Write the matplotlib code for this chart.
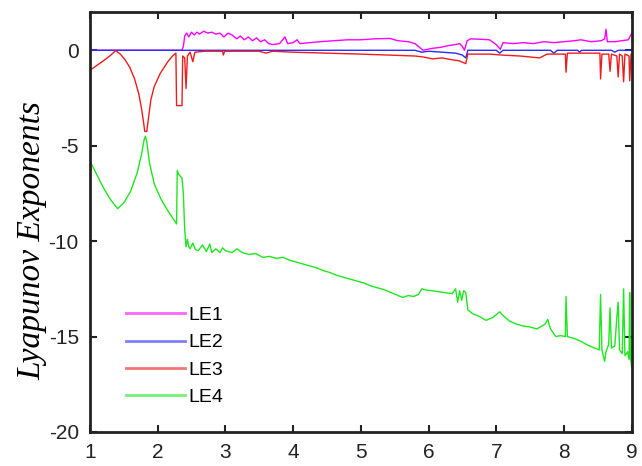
from matplotlib import pyplot as plt


# LE1 (magenta)
LE1_X = [1.00, 2.36, 2.38, 2.40, 2.43, 2.46, 2.50, 2.54, 2.58, 2.62, 2.68, 2.74, 2.80, 2.86, 2.92,
         2.98, 3.04, 3.10, 3.17, 3.22, 3.28, 3.34, 3.40, 3.46, 3.52, 3.58, 3.64, 3.70, 3.80, 3.88,
         3.92, 4.00, 4.06, 4.10, 4.25, 4.40, 4.60, 4.80, 5.00, 5.20, 5.43, 5.55, 5.70, 5.80, 5.92,
         6.05, 6.17, 6.30, 6.40, 6.46, 6.50, 6.53, 6.57, 6.62, 6.75, 6.90, 7.00, 7.06, 7.10, 7.25,
         7.40, 7.55, 7.70, 7.85, 8.00, 8.15, 8.25, 8.40, 8.55, 8.60, 8.62, 8.64, 8.75, 8.85, 8.95, 9.00]
LE1_Y = [0.0, 0.0, 0.2, 0.75, 0.9, 0.7, 0.95, 0.8, 0.95, 0.85, 1.0, 0.9, 0.95, 0.85, 0.9,
         0.7, 0.9, 0.8, 0.6, 0.75, 0.55, 0.7, 0.5, 0.65, 0.45, 0.55, 0.35, 0.3, 0.35, 0.7,
         0.35, 0.4, 0.55, 0.35, 0.4, 0.45, 0.5, 0.55, 0.55, 0.6, 0.62, 0.5, 0.45, 0.35, 0.0,
         0.1, 0.15, 0.25, 0.3, 0.35, 0.2, 0.0, 0.5, 0.6, 0.58, 0.55, 0.3, 0.05, 0.4, 0.35,
         0.4, 0.35, 0.45, 0.4, 0.45, 0.5, 0.55, 0.45, 0.5, 0.6, 1.1, 0.45, 0.45, 0.5, 0.55, 0.9]

# LE2 (blue)
LE2_X = [1.00, 5.80, 5.90, 6.00, 6.20, 6.40, 6.50, 6.55, 6.58, 7.00, 7.05, 7.10, 7.80, 7.85,
         7.90, 8.20, 8.23, 8.26, 8.70, 8.75, 8.80, 9.00]
LE2_Y = [0.0, 0.0, -0.1, -0.05, -0.1, -0.15, -0.25, -0.4, 0.0, 0.0, -0.15, 0.0, 0.0, -0.15,
         0.0, 0.0, -0.1, 0.0, 0.0, -0.1, 0.0, 0.0]

# LE3 (red)
LE3_X = [1.00, 1.10, 1.20, 1.30, 1.38, 1.45, 1.52, 1.59, 1.66, 1.72, 1.76, 1.79, 1.81, 1.84,
         1.86, 1.90, 1.95, 2.04, 2.15, 2.22, 2.27, 2.28, 2.36, 2.37, 2.40, 2.42, 2.44, 2.48,
         2.52, 2.55, 2.70, 2.96, 2.97, 2.99, 3.50, 3.60, 3.70, 4.00, 4.50, 5.00, 5.40, 5.80,
         5.92, 6.06, 6.20, 6.35, 6.45, 6.55, 6.58, 6.75, 6.90, 7.08, 7.35, 7.64, 7.75, 8.02,
         8.03, 8.05, 8.53, 8.54, 8.56, 8.66, 8.68, 8.70, 8.78, 8.80, 8.82, 8.86, 8.88, 8.90,
         8.96, 8.97, 8.99, 9.00]
LE3_Y = [-1.05, -0.8, -0.55, -0.28, -0.02, -0.2, -0.5, -0.9, -1.5, -2.25, -3.0, -3.7, -4.25, -4.25,
         -3.7, -2.6, -1.9, -1.2, -0.6, -0.3, -0.15, -2.9, -2.9, -0.3, -0.4, -2.0, -0.3, -0.1,
         -0.6, -0.1, -0.05, -0.05, -0.25, -0.05, -0.05, -0.15, -0.05, -0.1, -0.15, -0.2, -0.25, -0.3,
         -0.35, -0.45, -0.4, -0.5, -0.55, -0.7, -0.2, -0.2, -0.2, -0.25, -0.3, -0.4, -0.2, -0.2,
         -1.15, -0.15, -0.15, -1.5, -0.2, -0.2, -1.1, -0.2, -0.3, -1.4, -0.2, -0.3, -1.65, -0.2,
         -0.3, -1.6, -0.2, -0.2]

# LE4 (green)
LE4_X = [1.00, 1.10, 1.20, 1.30, 1.41, 1.50, 1.60, 1.70, 1.76, 1.80, 1.82, 1.84, 1.88, 1.95,
         2.05, 2.15, 2.28, 2.29, 2.31, 2.36, 2.38, 2.40, 2.42, 2.44, 2.46, 2.48, 2.52, 2.56,
         2.60, 2.66, 2.72, 2.77, 2.80, 2.86, 2.92, 2.96, 3.00, 3.10, 3.17, 3.25, 3.35, 3.45,
         3.55, 3.65, 3.75, 3.85, 3.95, 4.05, 4.15, 4.25, 4.35, 4.45, 4.55, 4.65, 4.75, 4.85,
         4.95, 5.05, 5.15, 5.25, 5.35, 5.45, 5.55, 5.62, 5.70, 5.78, 5.85, 5.90, 5.95, 6.05,
         6.15, 6.25, 6.35, 6.40, 6.43, 6.46, 6.49, 6.52, 6.55, 6.58, 6.65, 6.75, 6.85, 6.95,
         7.05, 7.10, 7.20, 7.30, 7.40, 7.50, 7.60, 7.72, 7.76, 7.80, 7.88, 7.95, 8.02, 8.03,
         8.05, 8.15, 8.25, 8.35, 8.45, 8.52, 8.54, 8.56, 8.60, 8.62, 8.66, 8.68, 8.70, 8.75,
         8.78, 8.80, 8.82, 8.86, 8.88, 8.90, 8.94, 8.96, 8.97, 8.98, 9.00]
LE4_Y = [-5.8, -6.5, -7.2, -7.8, -8.3, -8.0, -7.4, -6.4, -5.5, -4.7, -4.5, -4.8, -5.9, -7.0,
         -7.8, -8.4, -9.1, -6.3, -6.5, -6.7, -7.5, -9.4, -10.3, -9.9, -10.3, -10.4, -10.1, -10.45,
         -10.5, -10.2, -10.55, -10.15, -10.6, -10.4, -10.6, -10.35, -10.5, -10.6, -10.4, -10.6, -10.7, -10.65,
         -10.85, -10.8, -10.9, -10.85, -11.0, -11.1, -11.2, -11.3, -11.4, -11.55, -11.65, -11.8, -11.9, -12.0,
         -12.1, -12.2, -12.35, -12.45, -12.55, -12.7, -12.85, -12.95, -12.85, -12.9, -12.8, -12.5, -12.55, -12.6,
         -12.65, -12.7, -12.75, -12.5, -13.2, -12.6, -13.1, -12.6, -12.7, -13.6, -13.8, -13.95, -14.15, -14.0,
         -13.7, -13.9, -14.2, -14.35, -14.45, -14.5, -14.6, -14.35, -14.1, -14.6, -15.0, -14.95, -15.0, -12.9,
         -15.0, -15.1, -15.25, -15.45, -15.6, -15.7, -12.8, -15.7, -16.3, -15.8, -15.4, -13.5, -15.6, -15.5,
         -14.0, -13.2, -15.7, -15.9, -12.5, -16.0, -15.8, -16.2, -12.7, -16.1, -16.6]


def main():
    plt.rcParams['axes.unicode_minus'] = False
    plot_exponents()


def plot_exponents():
    fig = plt.figure(figsize=(6.42, 4.66), dpi=100)
    ax = fig.add_axes([0.140, 0.073, 0.844, 0.901])

    ax.plot(LE1_X, LE1_Y, color='#ff00ff', linewidth=1.0, label='LE1')
    ax.plot(LE2_X, LE2_Y, color='#2a2aff', linewidth=1.0, label='LE2')
    ax.plot(LE3_X, LE3_Y, color='#ee1c1c', linewidth=1.0, label='LE3')
    ax.plot(LE4_X, LE4_Y, color='#1ee81e', linewidth=1.0, label='LE4')

    ax.set_xlim(1, 9)
    ax.set_ylim(-20, 2)
    ax.set_xticks(range(1, 10))
    ax.set_yticks([-20, -15, -10, -5, 0])

    for side in ax.spines.values():
        side.set_linewidth(2.0)
        side.set_color('#222222')
    ax.tick_params(direction='in', top=True, right=True, length=5, width=1.5,
                   labelsize=15, colors='#222222', pad=8)
    for label in ax.get_xticklabels() + ax.get_yticklabels():
        label.set_fontfamily('Liberation Sans')

    ax.set_ylabel('Lyapunov Exponents', fontfamily='Liberation Serif', fontstyle='italic',
                  fontsize=24)
    ax.yaxis.set_label_coords(-0.078, 0.455)

    leg = ax.legend(loc='lower left', bbox_to_anchor=(0.035, 0.02), frameon=False,
                    prop={'family': 'Liberation Sans', 'size': 14}, handlelength=3.0,
                    handletextpad=0.2, labelspacing=0.5)
    for line in leg.get_lines():
        line.set_alpha(0.6)
        line.set_linewidth(2.0)

    fig.savefig('out.png', dpi=100)
    plt.close(fig)


if __name__ == '__main__':
    main()
